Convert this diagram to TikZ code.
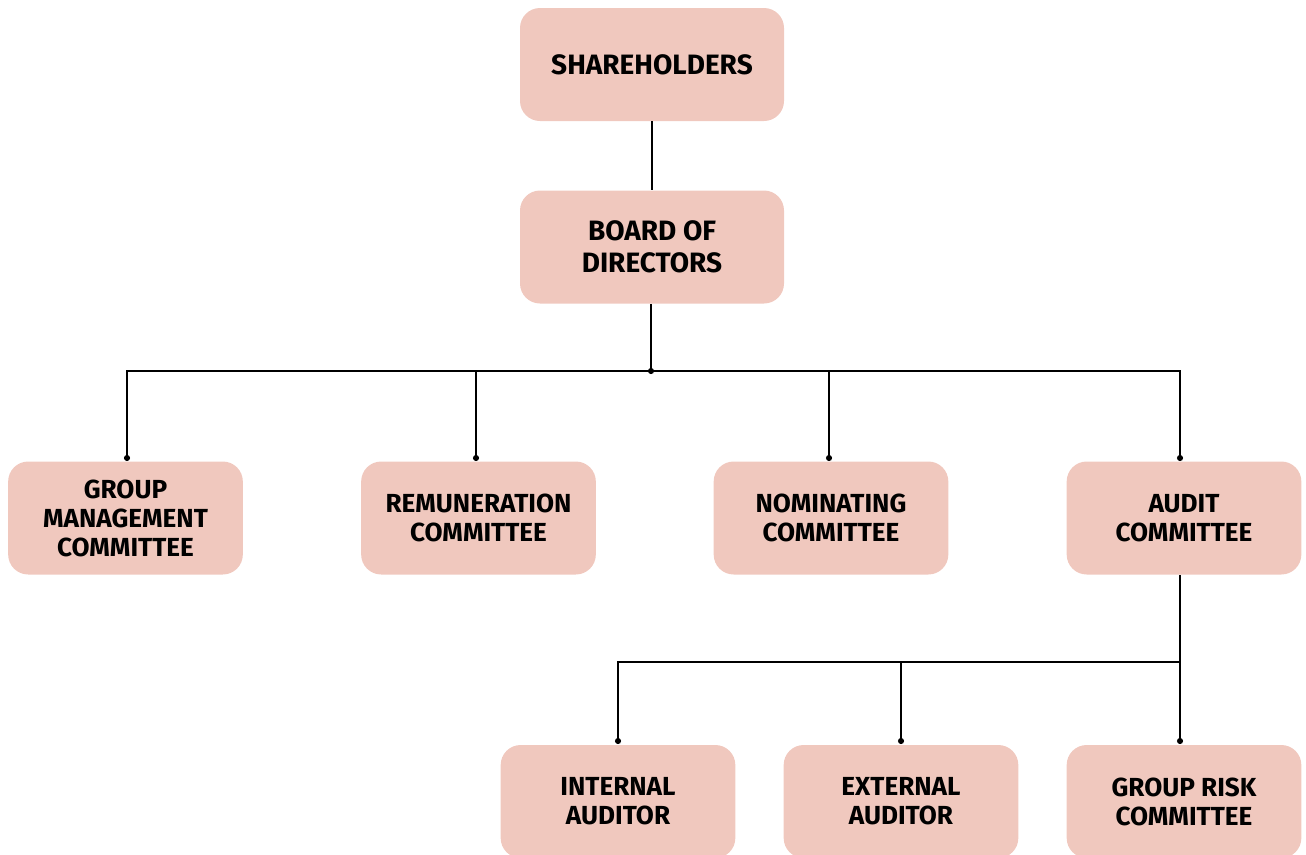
\documentclass[tikz,border=0pt]{standalone}
\usepackage{fontspec}
\setmainfont{Fira Sans}
\definecolor{boxfill}{HTML}{F0C8BE}
\begin{document}
\begin{tikzpicture}[x=0.75pt,y=-0.75pt,
  box/.style={fill=boxfill,draw=none,rounded corners=15pt,minimum width=176pt,minimum height=84.75pt,align=center,inner sep=0pt,font=\fontsize{19.6}{21.75}\selectfont\bfseries},
  bigbox/.style={box,minimum width=198pt,font=\fontsize{21}{24}\selectfont\bfseries},
  conn/.style={draw=black,line width=1.1pt},
  dot/.style={circle,fill=black,inner sep=0pt,minimum size=4.6pt}]
\useasboundingbox (0,0) rectangle (1306,854);
\node[bigbox] (sh) at (652,64.5) {SHAREHOLDERS};
\node[bigbox] (bd) at (652,247) {BOARD OF\\DIRECTORS};
\node[box] (gmc) at (125.5,518) {GROUP\\MANAGEMENT\\COMMITTEE};
\node[box] (rem) at (478.5,518) {REMUNERATION\\COMMITTEE};
\node[box] (nom) at (831,518) {NOMINATING\\COMMITTEE};
\node[box] (aud) at (1184,518) {AUDIT\\COMMITTEE};
\node[box] (ia) at (618,801.5) {INTERNAL\\AUDITOR};
\node[box] (ea) at (901,801.5) {EXTERNAL\\AUDITOR};
\node[box] (grc) at (1184,801.5) {GROUP RISK\\COMMITTEE};
% bus coordinates
\coordinate (j1) at (651,371);
\coordinate (d1) at (127,458);
\coordinate (d2) at (476,458);
\coordinate (d3) at (829,458);
\coordinate (d4) at (1180,458);
\coordinate (j2) at (1180,662);
\coordinate (e1) at (618,741);
\coordinate (e2) at (901,741);
\coordinate (e3) at (1180,741);
\draw[conn] (sh.south) -- (bd.north);
\draw[conn] (bd.south -| j1) -- (j1);
\draw[conn] (d1) |- (j1) -| (d4);
\draw[conn] (d2) -- (d2 |- j1);
\draw[conn] (d3) -- (d3 |- j1);
\draw[conn] (aud.south -| j2) -- (j2) -- (e3);
\draw[conn] (e1) |- (j2);
\draw[conn] (e2) -- (e2 |- j2);
\foreach \p in {j1,d1,d2,d3,d4,e1,e2,e3} \node[dot] at (\p) {};
\end{tikzpicture}
\end{document}
